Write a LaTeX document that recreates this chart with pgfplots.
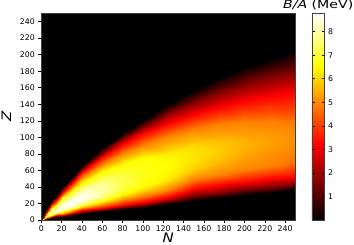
\documentclass[border=0pt]{standalone}
\usepackage{fontspec}
\setmainfont{DejaVu Sans}
\usepackage{pgfplots}
\pgfplotsset{compat=1.18}
\pgfplotsset{
  /pgf/number format/assume math mode=true,
  colormap={hot}{rgb(0cm)=(0,0,0); rgb(3.65cm)=(1,0,0); rgb(7.46cm)=(1,1,0); rgb(10cm)=(1,1,1)}
}
\begin{document}
\begin{tikzpicture}[x=1pt,y=1pt]
\useasboundingbox (0,0) rectangle (354,245);
\begin{axis}[
  at={(41.3pt,25pt)},anchor=south west,
  scale only axis,width=254pt,height=206.7pt,
  xmin=0,xmax=250,ymin=0,ymax=250,
  xtick={0,20,...,240},ytick={0,20,...,240},
  tick align=outside,tick pos=left,
  major tick length=3pt,
  tick style={black,line width=0.5pt},
  axis line style={line width=0.5pt,black!75},
  tick label style={font=\fontsize{7.8}{8}\selectfont},
  xticklabel style={yshift=1pt},
  axis on top,
  xlabel={\scalebox{1.15}[1]{\fontsize{13}{14}\selectfont\itshape N}},
  ylabel={\scalebox{1.15}[1]{\fontsize{13}{14}\selectfont\itshape Z}},
  xlabel style={at={(axis description cs:0.5,-0.087)},anchor=center,inner sep=0pt},
  ylabel style={at={(axis description cs:-0.137,0.5)},anchor=center,inner sep=0pt},
  point meta min=0,point meta max=8.78,
  colormap name=hot,
  colorbar,
  colorbar style={
    at={(parent axis.south east)},anchor=south west,
    xshift=8pt,
    scale only axis,
    width=12.7pt,height=206.7pt,
    ymin=0,ymax=8.78,
    ytick={1,2,3,4,5,6,7,8},
    yticklabel pos=right,
    major tick length=3pt,
    tick style={black,line width=0.5pt},
    axis line style={line width=0.5pt,black!75},
    tick label style={font=\fontsize{7.8}{8}\selectfont},
    title={\scalebox{1.25}[1]{\fontsize{11.3}{12}\selectfont\textit{B/A} (MeV)}},
    title style={at={(0.5,1)},anchor=south,yshift=-3.5pt,inner sep=1pt},
  },
]
\addplot[surf,shader=interp,point meta=explicit] table[x=N,y=Z,meta=v] {
N Z v
0 0 0
0 0.05 0
0 0.1 1
0 0.15 2
0 0.2 3
0 0.25 4.5
0 0.3 5.5
0 0.35 6.2
0 0.4 5.5
0 0.45 4.5
0 0.5 3
0 0.55 2
0 0.6 1
0 0.65 0
0 250 0

5 0 0
5 1 0
5 1.5 1.6
5 2 3.2
5 2.6 4.9
5 3.2 6.55
5 3.6 7.0
5 4 7.3
5 4.5 7.0
5 5 6.55
5 7 4.9
5 9 3.2
5 11 1.6
5 13 0
5 250 0

10 0 0
10 2.5 0
10 3.5 1.6
10 4.2 3.2
10 5.2 4.9
10 6 6.55
10 7 7.9
10 8 8.3
10 10.5 7.9
10 13 6.55
10 16 4.9
10 18.5 3.2
10 21 1.6
10 23 0
10 250 0

15 0 0
15 3.5 0
15 4.5 1.6
15 5.5 3.2
15 6.8 4.9
15 8 6.55
15 9.5 8.0
15 11.5 8.5
15 15 8.0
15 19 6.55
15 22 4.9
15 25 3.2
15 28 1.6
15 31 0
15 250 0

20 0 0
20 4 0
20 5 1.6
20 6 3.2
20 7.5 4.9
20 10 6.55
20 12 8.1
20 15 8.65
20 20 8.1
20 26 6.55
20 29 4.9
20 33 3.2
20 36 1.6
20 39 0
20 250 0

30 0 0
30 5.5 0
30 7 1.6
30 8.5 3.2
30 10.5 4.9
30 13 6.55
30 16 8.2
30 21 8.75
30 27 8.2
30 35 6.55
30 40 4.9
30 45 3.2
30 48 1.6
30 52 0
30 250 0

40 0 0
40 7.5 0
40 9.5 1.6
40 11.5 3.2
40 14.5 4.9
40 17.5 6.55
40 21.5 8.2
40 27 8.75
40 35 8.2
40 45 6.55
40 52 4.9
40 58 3.2
40 62 1.6
40 66 0
40 250 0

60 0 0
60 10.5 0
60 12.5 1.6
60 15 3.2
60 18.5 4.9
60 23 6.55
60 28 7.64
60 35 8.1
60 47 7.64
60 58 6.55
60 68 4.9
60 76 3.2
60 81 1.6
60 87 0
60 250 0

80 0 0
80 13 0
80 15.5 1.6
80 18.5 3.2
80 24 4.9
80 31 6.55
80 37 7.04
80 46 7.2
80 57 7.04
80 68 6.55
80 81 4.9
80 92 3.2
80 99 1.6
80 105 0
80 250 0

100 0 0
100 15 0
100 18 1.6
100 22 3.2
100 29 4.9
100 40 6.55
100 47.5 6.7
100 55 6.75
100 64 6.7
100 75 6.55
100 91 4.9
100 105 3.2
100 113 1.6
100 121 0
100 250 0

125 0 0
125 19 0
125 22.5 1.6
125 28 3.2
125 36 4.9
125 50 6.3
125 58.5 6.49
125 67 6.55
125 73.5 6.49
125 80 6.3
125 102 4.9
125 117 3.2
125 129 1.6
125 140 0
125 250 0

150 0 0
150 23 0
150 30 1.6
150 38 3.2
150 50 4.9
150 63 5.95
150 71 6.14
150 79 6.2
150 85.5 6.14
150 92 5.95
150 110 4.9
150 128 3.2
150 143 1.6
150 157 0
150 250 0

175 0 0
175 26 0
175 33 1.6
175 42 3.2
175 55 4.9
175 70 5.6
175 77.5 5.82
175 85 5.9
175 91.5 5.82
175 98 5.6
175 116 4.9
175 137 3.2
175 155 1.6
175 172 0
175 250 0

200 0 0
200 30 0
200 37 1.6
200 46 3.2
200 60 4.9
200 75 5.3
200 83 5.49
200 91 5.55
200 97.5 5.49
200 104 5.3
200 118 4.9
200 144 3.2
200 165 1.6
200 185 0
200 250 0

225 0 0
225 33 0
225 40 1.6
225 49 3.2
225 65 4.9
225 80 5.1
225 88 5.25
225 96 5.3
225 102 5.25
225 108 5.1
225 118 4.9
225 150 3.2
225 173 1.6
225 195 0
225 250 0

250 0 0
250 36 0
250 43 1.6
250 52 3.2
250 70 4.7
250 84 4.95
250 92 5.03
250 100 5.05
250 105 5.03
250 110 4.95
250 120 4.7
250 155 3.2
250 180 1.6
250 205 0
250 250 0
};
\end{axis}
\end{tikzpicture}
\end{document}
